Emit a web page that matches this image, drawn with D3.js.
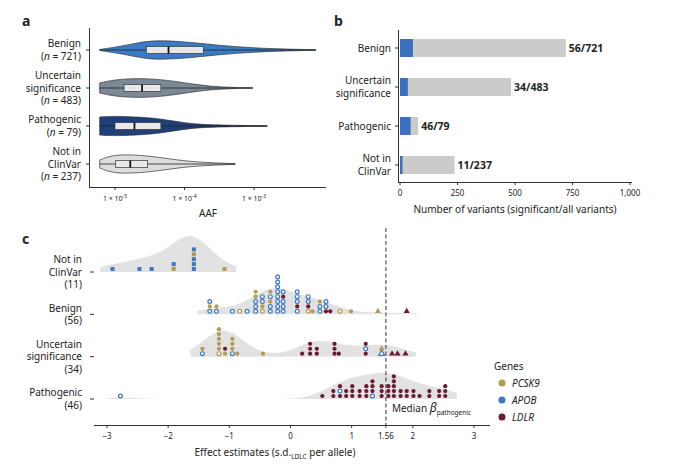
<!DOCTYPE html>
<html><head><meta charset="utf-8">
<script src="https://cdn.jsdelivr.net/npm/d3@7"></script>
<style>body{margin:0;background:#fff}text{font-family:"Noto Sans",sans-serif;fill:#222}</style>
</head><body><svg id="c" width="680" height="467"></svg>
<script>
// ---- data ----
const classes = ["Benign", "Uncertain significance", "Pathogenic", "Not in ClinVar"];
const classN = [721, 483, 79, 237];
const violinColors = ["#3b7bc4", "#7c8898", "#1e3f7a", "#dedede"];
// violin half-width profiles [log10 AAF, width]
const violins = [
  [[-5.22,0.5],[-4.8,5],[-4.5,10],[-4.0,8.5],[-3.5,4.5],[-3.0,2],[-2.5,0.8],[-2.11,0.3]],
  [[-5.22,5],[-5.0,8.5],[-4.6,10],[-4.2,7.5],[-3.9,4],[-3.6,1.5],[-3.3,0.5],[-3.02,0.3]],
  [[-5.22,9],[-5.0,10],[-4.5,8.5],[-4.2,5.5],[-3.9,2],[-3.5,0.8],[-2.81,0.3]],
  [[-5.22,4],[-5.0,10],[-4.6,8.5],[-4.4,7],[-4.0,3],[-3.7,1.5],[-3.27,0.3]]
];
const boxes = [[-4.55,-4.23,-3.73],[-4.87,-4.61,-4.34],[-5.0,-4.72,-4.34],[-4.99,-4.78,-4.53]];
const aafTicks = [-5, -4, -3];

const sigCounts = [56, 34, 46, 11];
const allCounts = [721, 483, 79, 237];
const countTicks = [0, 250, 500, 750, 1000];

// panel c: columns [effect, stack bottom->top]; codes: g/G PCSK9 filled/open, b APOB square, B APOB open,
// r LDLR, s PCSK9 square, t LDLR triangle, u PCSK9 triangle, v APOB open triangle
const rowsC = ["Not in ClinVar", "Benign", "Uncertain significance", "Pathogenic"];
const rowsN = [11, 56, 34, 46];
const notInCols = [[-2.91,"b"],[-2.47,"b"],[-2.27,"b"],[-1.91,"sb"],[-1.58,"bbbsb"],[-1.08,"s"]];
const benignCols = [[-1.32,"BgB"],[-1.21,"Bg"],[-0.95,"B"],[-0.83,"G"],[-0.71,"B"],[-0.57,"BBBgg"],
  [-0.46,"GgBB"],[-0.33,"BBgBg"],[-0.21,"BBBBBBBB"],[-0.12,"BBBrB"],[0.11,"BrBBB"],[0.29,"GrBB"],
  [0.36,"g"],[0.48,"BBg"],[0.58,"rBB"],[0.65,"r"],[0.81,"G"],[0.99,"g"],[1.43,"u"],[1.90,"t"]];
const uncertainCols = [[-1.44,"Bg"],[-1.17,"Gggggg"],[-1.07,"gr"],[-0.95,"Bggg"],[-0.87,"g"],[-0.45,"g"],
  [0.19,"r"],[0.32,"rrr"],[0.43,"rr"],[0.72,"rrr"],[0.79,"r"],[1.23,"rBr"],[1.49,"vu"],[1.66,"t"],[1.75,"t"],[1.88,"t"]];
const pathoCols = [[-2.78,"B"],[0.52,"r"],[0.70,"rr"],[0.81,"rBr"],[0.91,"rr"],[1.01,"rrr"],[1.13,"rr"],
  [1.24,"rrr"],[1.34,"Brrr"],[1.49,"rrr"],[1.60,"rrr"],[1.69,"rrrrr"],[1.80,"rr"],[1.90,"rr"],[2.01,"rr"],
  [2.11,"r"],[2.27,"rr"],[2.43,"rr"],[2.53,"rrr"]];
const colsC = [notInCols, benignCols, uncertainCols, pathoCols];
const effectTicks = [-3, -2, -1, 0, 1, 1.56, 2, 3];
const medianPath = 1.56;
const genes = ["PCSK9", "APOB", "LDLR"];
const geneColors = {PCSK9: "#b39b52", APOB: "#3c78c3", LDLR: "#6a1834"};

const svg = d3.select("#c");
const fs = 10;
const lh = 12.5;

// ---- panel a ----
const xa = d3.scaleLinear().domain([-5, -3]).range([115, 254]);
const ya = d3.scalePoint().domain(classes).range([50, 164]);
svg.append("text").attr("x", 22).attr("y", 26).attr("font-weight", "bold").attr("font-size", 14).text("a");
svg.append("line").attr("x1", 89.5).attr("x2", 89.5).attr("y1", 28).attr("y2", 187).attr("stroke", "#333");
svg.append("line").attr("x1", 89).attr("x2", 326).attr("y1", 187.5).attr("y2", 187.5).attr("stroke", "#333");
const aLabels = [["Benign","(n = 721)"],["Uncertain","significance","(n = 483)"],["Pathogenic","(n = 79)"],["Not in","ClinVar","(n = 237)"]];
classes.forEach((c, i) => {
  const y = ya(c);
  const area = d3.area().curve(d3.curveBasis).x(d => xa(d[0])).y0(d => y - d[1]).y1(d => y + d[1]);
  svg.append("line").attr("x1", 86).attr("x2", 89).attr("y1", y).attr("y2", y).attr("stroke", "#333");
  svg.append("path").attr("d", area(violins[i])).attr("fill", violinColors[i]).attr("stroke", "#333").attr("stroke-width", 0.7);
  const v = violins[i];
  svg.append("line").attr("x1", xa(v[0][0])).attr("x2", xa(v[v.length-1][0])).attr("y1", y).attr("y2", y).attr("stroke", "#222").attr("stroke-width", 0.8);
  const b = boxes[i];
  svg.append("rect").attr("x", xa(b[0])).attr("y", y - 3.5).attr("width", xa(b[2]) - xa(b[0])).attr("height", 7)
    .attr("fill", "#e8e8ea").attr("stroke", "#333").attr("stroke-width", 0.7);
  svg.append("line").attr("x1", xa(b[1])).attr("x2", xa(b[1])).attr("y1", y - 3.5).attr("y2", y + 3.5).attr("stroke", "#111").attr("stroke-width", 1.8);
  const L = aLabels[i], y0 = y - (L.length - 1) * lh / 2 + 3.5;
  L.forEach((t, j) => {
    const tx = svg.append("text").attr("x", 81).attr("y", y0 + j * lh).attr("text-anchor", "end").attr("font-size", fs);
    if (t.startsWith("(n")) { tx.append("tspan").text("("); tx.append("tspan").attr("font-style","italic").text("n"); tx.append("tspan").text(t.slice(2)); }
    else tx.text(t);
  });
});
aafTicks.forEach(t => {
  svg.append("line").attr("x1", xa(t)).attr("x2", xa(t)).attr("y1", 187).attr("y2", 190).attr("stroke", "#333");
  const tx = svg.append("text").attr("x", xa(t)).attr("y", 201).attr("text-anchor", "middle").attr("font-size", 7);
  tx.append("tspan").text("1 × 10"); tx.append("tspan").attr("dy", -3).attr("font-size", 5).text(t);
});
svg.append("text").attr("x", 208).attr("y", 217).attr("text-anchor", "middle").attr("font-size", fs).text("AAF");

// ---- panel b ----
const xb = d3.scaleLinear().domain([0, 1000]).range([400, 630]);
const yb = d3.scalePoint().domain(classes).range([48, 165]);
svg.append("text").attr("x", 334).attr("y", 26).attr("font-weight", "bold").attr("font-size", 14).text("b");
svg.append("line").attr("x1", 398.5).attr("x2", 398.5).attr("y1", 30).attr("y2", 182).attr("stroke", "#333");
svg.append("line").attr("x1", 398).attr("x2", 632).attr("y1", 182.5).attr("y2", 182.5).attr("stroke", "#333");
const bLabels = [["Benign"],["Uncertain","significance"],["Pathogenic"],["Not in","ClinVar"]];
classes.forEach((c, i) => {
  const y = yb(c);
  svg.append("rect").attr("x", xb(0)).attr("y", y - 9).attr("width", xb(allCounts[i]) - xb(0)).attr("height", 18).attr("fill", "#cbcbcb");
  svg.append("rect").attr("x", xb(0)).attr("y", y - 9).attr("width", xb(sigCounts[i]) - xb(0)).attr("height", 18).attr("fill", "#3b6fbf");
  svg.append("text").attr("x", xb(allCounts[i]) + 3).attr("y", y + 4).attr("font-size", 10.5).attr("font-weight", "bold").text(sigCounts[i] + "/" + allCounts[i]);
  svg.append("line").attr("x1", 395).attr("x2", 398).attr("y1", y).attr("y2", y).attr("stroke", "#333");
  const L = bLabels[i], y0 = y - (L.length - 1) * lh / 2 + 3.5;
  L.forEach((t, j) => svg.append("text").attr("x", 391).attr("y", y0 + j * lh).attr("text-anchor", "end").attr("font-size", fs).text(t));
});
countTicks.forEach(t => {
  svg.append("line").attr("x1", xb(t)).attr("x2", xb(t)).attr("y1", 182).attr("y2", 185).attr("stroke", "#333");
  svg.append("text").attr("x", xb(t)).attr("y", 196).attr("text-anchor", "middle").attr("font-size", 8).text(d3.format(",")(t));
});
svg.append("text").attr("x", 515).attr("y", 213).attr("text-anchor", "middle").attr("font-size", fs).text("Number of variants (significant/all variants)");

// ---- panel c ----
const xc = d3.scaleLinear().domain([-3, 3]).range([107, 474]);
const yc = d3.scalePoint().domain(rowsC).range([269, 396]);
svg.append("text").attr("x", 22).attr("y", 244).attr("font-weight", "bold").attr("font-size", 14).text("c");
const step = 4.9;
const codeInfo = c => ({
  g: ["PCSK9", "circle", true], G: ["PCSK9", "circle", false], b: ["APOB", "square", true], B: ["APOB", "circle", false],
  r: ["LDLR", "circle", true], s: ["PCSK9", "square", true], t: ["LDLR", "triangle", true],
  u: ["PCSK9", "triangle", true], v: ["APOB", "triangle", false]
})[c];
rowsC.forEach((r, i) => {
  const y = yc(r), cols = colsC[i];
  // kernel density from points
  const pts = cols.flatMap(([x, s]) => Array.from(s, () => x));
  const bw = 0.28, grid = d3.range(d3.min(pts) - 0.2, d3.max(pts) + 0.2, 0.03);
  const dens = grid.map(g => [g, d3.sum(pts, p => Math.exp(-0.5 * ((g - p) / bw) ** 2))]);
  const dmax = d3.max(dens, d => d[1]);
  const hmax = i === 0 ? 36 : 26;
  const area = d3.area().curve(d3.curveBasis).x(d => xc(d[0])).y0(y + 3).y1(d => y + 3 - d[1] / dmax * hmax);
  svg.append("path").attr("d", area(dens)).attr("fill", "#e2e2e2");
  svg.append("line").attr("x1", 90).attr("x2", 94).attr("y1", y + 3).attr("y2", y + 3).attr("stroke", "#333");
  cols.forEach(([x, s]) => {
    Array.from(s).forEach((c, k) => {
      const [gene, shape, filled] = codeInfo(c), col = geneColors[gene];
      const cx = xc(x), cy = y - k * step;
      let m;
      if (shape === "circle") m = svg.append("circle").attr("cx", cx).attr("cy", cy).attr("r", filled ? 2.1 : 1.9);
      else if (shape === "square") m = svg.append("rect").attr("x", cx - 2).attr("y", cy - 2).attr("width", 4).attr("height", 4);
      else m = svg.append("path").attr("d", d3.symbol(d3.symbolTriangle, 16)()).attr("transform", `translate(${cx},${cy})`);
      if (filled) m.attr("fill", col);
      else m.attr("fill", "#fff").attr("stroke", col).attr("stroke-width", 1.2);
    });
  });
  const lbl = [["Not in","ClinVar","(11)"],["Benign","(56)"],["Uncertain","significance","(34)"],["Pathogenic","(46)"]][i];
  const y0 = y - (lbl.length - 1) * lh / 2 + 6.5;
  lbl.forEach((t, j) => svg.append("text").attr("x", 82).attr("y", y0 + j * lh).attr("text-anchor", "end").attr("font-size", fs).text(t));
});
svg.append("line").attr("x1", 94).attr("x2", 490).attr("y1", 425.5).attr("y2", 425.5).attr("stroke", "#333");
effectTicks.forEach(t => {
  svg.append("line").attr("x1", xc(t)).attr("x2", xc(t)).attr("y1", 425).attr("y2", 428).attr("stroke", "#333");
  svg.append("text").attr("x", xc(t)).attr("y", 439).attr("text-anchor", "middle").attr("font-size", 8).text(t < 0 ? "−" + (-t) : t);
});
svg.append("line").attr("x1", xc(medianPath)).attr("x2", xc(medianPath)).attr("y1", 228).attr("y2", 425)
  .attr("stroke", "#333").attr("stroke-dasharray", "4,2.5").attr("stroke-width", 1);
const md = svg.append("text").attr("x", xc(medianPath) + 6).attr("y", 412).attr("font-size", fs);
md.append("tspan").text("Median ");
md.append("tspan").attr("font-style", "italic").attr("font-size", 12).text("β");
md.append("tspan").attr("dy", 2.5).attr("font-size", 6.5).text("pathogenic");
const xl = svg.append("text").attr("x", 275).attr("y", 456).attr("text-anchor", "middle").attr("font-size", fs);
xl.append("tspan").text("Effect estimates (s.d.");
xl.append("tspan").attr("dy", 2.5).attr("font-size", 6.5).text("LDLC");
xl.append("tspan").attr("dy", -2.5).text(" per allele)");

// legend
svg.append("text").attr("x", 494).attr("y", 370).attr("font-size", fs).text("Genes");
genes.forEach((g, i) => {
  const y = 383 + i * 17;
  svg.append("circle").attr("cx", 502).attr("cy", y).attr("r", 3.5).attr("fill", geneColors[g]);
  svg.append("text").attr("x", 512).attr("y", y + 3.5).attr("font-size", fs).attr("font-style", "italic").text(g);
});
</script></body></html>
